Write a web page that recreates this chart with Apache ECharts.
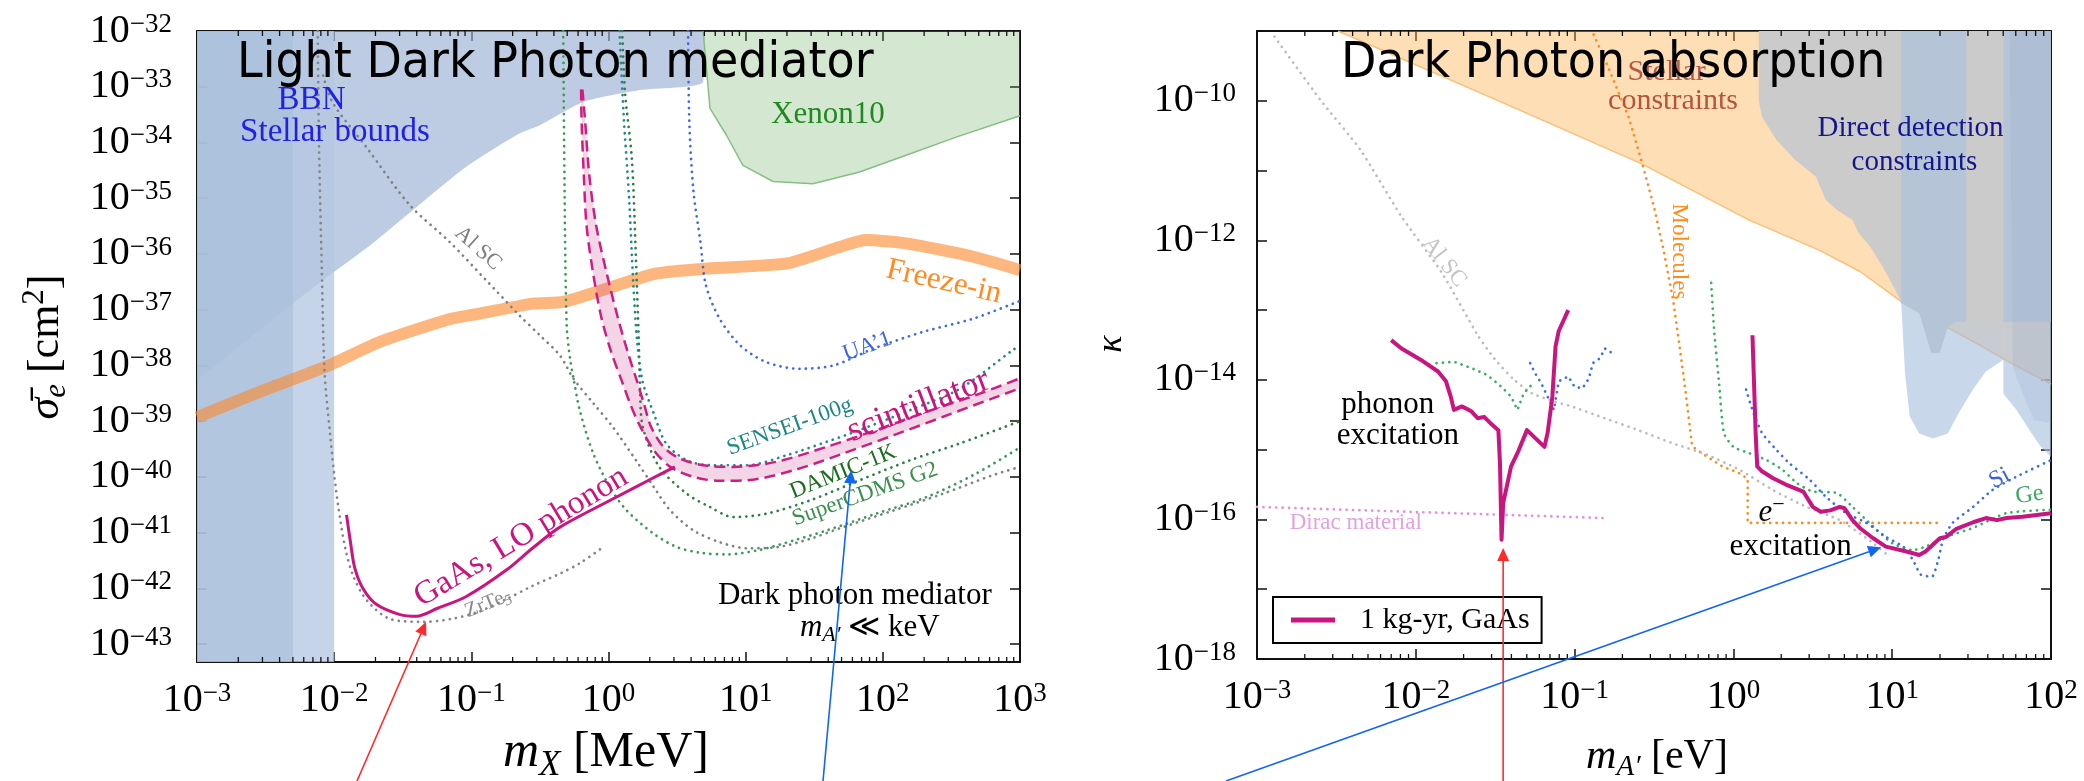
<!DOCTYPE html>
<html><head><meta charset="utf-8">
<script src="https://cdn.jsdelivr.net/npm/echarts@6.0.0/dist/echarts.min.js"></script>
<style>html,body{margin:0;padding:0;background:#fff;}#c{width:2084px;height:781px;}</style>
</head><body><div id="c"></div>
<script>
// All values are log10 of the plotted quantities.
// ---------- Left panel: x = log10(m_X / MeV), y = log10(sigma_e / cm^2)
const leftRange = {x: [-3, 3], y: [-43.32, -32]};
const rightRange = {x: [-3, 2], y: [-18, -9]};

const bbnDarkBand = [[-3,-32],[-2.30,-32],[-2.30,-43.32],[-3,-43.32]];
const bbnLightBand = [[-2.30,-32],[-2.0,-32],[-2.0,-43.32],[-2.30,-43.32]];
const stellarBoundL = [[-3,-38.27],[-2.30,-36.89],[-2.0,-36.32],[-1.72,-35.81],[-1.43,-35.22],[-1.04,-34.44],[-0.65,-33.84],[-0.50,-33.69],[-0.18,-33.27],[0.23,-33.06],[0.69,-32.91],[0.70,-32.0]];
const xenon10 = [[0.69,-32.0],[0.74,-33.39],[0.86,-33.87],[0.98,-34.41],[1.20,-34.70],[1.49,-34.74],[1.83,-34.53],[2.17,-34.23],[2.54,-33.90],[3.0,-33.52]];
const freezeIn = [[-3,-38.93],[-2.56,-38.49],[-2.05,-38.01],[-1.66,-37.57],[-1.16,-37.17],[-0.94,-37.07],[-0.55,-36.89],[-0.33,-36.86],[-0.01,-36.62],[0.35,-36.35],[0.72,-36.26],[1.30,-36.17],[1.69,-35.87],[1.88,-35.75],[2.17,-35.81],[2.66,-36.05],[3.0,-36.29]];
const scintOuter = [[-0.20,-33.05],[-0.196,-33.63],[-0.18,-34.59],[-0.16,-35.49],[-0.11,-36.38],[-0.05,-37.16],[0.02,-37.76],[0.10,-38.30],[0.16,-38.70],[0.22,-39.04],[0.33,-39.52],[0.45,-39.82],[0.62,-40.0],[0.81,-40.07],[1.01,-40.06],[1.35,-39.88],[1.71,-39.58],[2.08,-39.25],[2.44,-38.92],[2.80,-38.59],[3.0,-38.41]];
const scintInner = [[-0.19,-33.05],[-0.17,-33.63],[-0.14,-34.59],[-0.09,-35.49],[-0.01,-36.38],[0.07,-37.16],[0.14,-37.76],[0.21,-38.30],[0.26,-38.70],[0.31,-39.10],[0.40,-39.46],[0.52,-39.67],[0.69,-39.79],[0.91,-39.82],[1.22,-39.73],[1.59,-39.46],[1.95,-39.16],[2.32,-38.83],[2.68,-38.53],[3.0,-38.23]];
const gaasLO = [[-1.91,-40.68],[-1.88,-41.19],[-1.85,-41.63],[-1.79,-42.0],[-1.69,-42.29],[-1.52,-42.47],[-1.40,-42.50],[-1.25,-42.36],[-1.04,-42.15],[-0.75,-41.68],[-0.55,-41.27],[-0.354,-40.90],[0.059,-40.36],[0.30,-40.05],[0.484,-39.82]];
const zrTe5 = [[-2.12,-32.0],[-2.11,-34.10],[-2.09,-36.29],[-2.07,-38.12],[-2.03,-39.22],[-2.0,-39.95],[-1.97,-40.53],[-1.92,-41.27],[-1.86,-41.78],[-1.76,-42.22],[-1.59,-42.55],[-1.35,-42.60],[-1.15,-42.55],[-0.95,-42.42],[-0.75,-42.2],[-0.55,-41.95],[-0.35,-41.73],[-0.21,-41.55],[-0.04,-41.26]];
const alScL = [[-2.08,-32.8],[-2.01,-33.29],[-1.76,-34.10],[-1.45,-35.12],[-1.16,-35.78],[-0.90,-36.45],[-0.65,-37.1],[-0.50,-37.46],[-0.354,-37.82],[-0.257,-38.23],[-0.11,-38.68],[0.03,-39.10],[0.20,-39.70],[0.33,-40.18],[0.45,-40.60],[0.62,-40.96],[0.81,-41.17],[1.01,-41.28],[1.23,-41.26],[1.47,-41.11],[1.71,-40.90],[2.08,-40.60],[2.44,-40.30],[2.80,-39.97],[3.0,-39.82]];
const superCDMS = [[-0.33,-32.0],[-0.32,-34.89],[-0.305,-37.28],[-0.28,-37.88],[-0.25,-38.3],[-0.21,-38.80],[-0.111,-39.58],[0.01,-40.18],[0.132,-40.60],[0.33,-41.02],[0.50,-41.26],[0.67,-41.36],[0.86,-41.39],[1.10,-41.31],[1.35,-41.14],[1.59,-40.96],[1.95,-40.66],[2.32,-40.36],[2.68,-39.94],[3.0,-39.47]];
const damic1K = [[0.10,-32.0],[0.12,-33.09],[0.17,-34.29],[0.20,-36.08],[0.22,-37.5],[0.23,-38.4],[0.25,-39.10],[0.37,-39.82],[0.57,-40.30],[0.74,-40.54],[0.91,-40.72],[1.15,-40.66],[1.47,-40.42],[1.83,-40.06],[2.20,-39.70],[2.56,-39.40],[3.0,-39.0]];
const sensei100g = [[0.08,-32.0],[0.11,-33.5],[0.15,-35.0],[0.18,-36.5],[0.21,-37.6],[0.25,-38.3],[0.33,-38.86],[0.42,-39.40],[0.57,-39.70],[0.74,-39.79],[1.01,-39.79],[1.30,-39.61],[1.59,-39.37],[1.83,-39.16],[2.20,-38.80],[2.56,-38.42],[2.95,-37.72],[3.0,-37.65]];
const ua1 = [[0.58,-32.0],[0.59,-33.69],[0.62,-34.89],[0.67,-35.78],[0.71,-36.56],[0.81,-37.16],[0.96,-37.64],[1.15,-37.94],[1.39,-38.06],[1.64,-38.0],[1.93,-37.70],[2.29,-37.40],[2.66,-37.16],[3.0,-36.84]];

// ---------- Right panel: x = log10(m_A' / eV), y = log10(kappa)
const stellarR = [[-2.49,-9.0],[-1.5,-9.98],[-0.58,-10.90],[0.10,-11.71],[0.54,-12.14],[0.80,-12.45],[1.07,-12.90],[1.51,-13.45],[1.78,-13.80],[2.0,-14.06]];
const directGray = [[0.16,-9.0],[0.16,-10.0],[0.18,-10.23],[0.27,-10.56],[0.39,-10.85],[0.52,-11.09],[0.58,-11.42],[0.65,-11.56],[0.75,-11.71],[0.79,-11.90],[0.86,-12.09],[0.94,-12.38],[1.03,-12.76],[1.057,-12.90],[1.17,-13.04],[1.245,-13.61],[1.30,-13.61],[1.35,-13.24],[1.40,-13.17],[2.0,-13.17]];
const directBlue1 = [[1.057,-9.0],[1.466,-9.0],[1.466,-13.17],[1.70,-13.17],[1.70,-13.71],[1.59,-13.88],[1.51,-14.13],[1.42,-14.47],[1.35,-14.77],[1.256,-14.84],[1.17,-14.77],[1.11,-14.52],[1.08,-13.88],[1.057,-12.90]];
const directBlue2 = [[1.70,-9.0],[2.0,-9.0],[2.0,-15.11],[1.93,-14.94],[1.865,-14.72],[1.78,-14.42],[1.70,-14.20]];
const directBlue3 = [[1.74,-9.0],[2.0,-9.0],[2.0,-14.62],[1.89,-14.57],[1.82,-14.18],[1.76,-13.83]];
const molecules = [[-0.88,-9.05],[-0.79,-9.51],[-0.66,-10.23],[-0.58,-10.85],[-0.50,-11.52],[-0.44,-12.14],[-0.38,-12.85],[-0.34,-13.5],[-0.30,-14.19],[-0.26,-14.95],[-0.20,-15.05],[-0.07,-15.24],[0.04,-15.34],[0.09,-15.42],[0.09,-16.05],[1.31,-16.05]];
const alScR = [[-2.89,-9.08],[-2.60,-9.99],[-2.35,-10.70],[-2.09,-11.66],[-1.84,-12.45],[-1.61,-13.36],[-1.50,-13.71],[-1.38,-14.0],[-1.27,-14.19],[-1.13,-14.31],[-1.02,-14.38],[-0.81,-14.55],[-0.60,-14.72],[-0.38,-14.91],[-0.17,-15.07],[0.04,-15.29],[0.25,-15.58],[0.46,-15.82],[0.67,-16.01],[0.88,-16.34],[0.98,-16.53]];
const phononGaAs = [[-2.155,-13.43],[-2.09,-13.55],[-1.97,-13.71],[-1.86,-13.88],[-1.81,-14.02],[-1.78,-14.24],[-1.76,-14.43],[-1.71,-14.38],[-1.65,-14.45],[-1.61,-14.55],[-1.57,-14.53],[-1.53,-14.62],[-1.48,-14.72],[-1.47,-15.19],[-1.46,-16.29],[-1.45,-15.77],[-1.40,-15.24],[-1.36,-15.05],[-1.30,-14.72],[-1.19,-14.96],[-1.17,-14.76],[-1.14,-14.24],[-1.12,-13.52],[-1.10,-13.3],[-1.04,-13.0]];
const electronGaAs = [[0.12,-13.36],[0.13,-14.05],[0.14,-14.76],[0.15,-15.24],[0.18,-15.31],[0.25,-15.41],[0.33,-15.50],[0.44,-15.60],[0.50,-15.82],[0.55,-15.89],[0.61,-15.87],[0.67,-15.82],[0.70,-15.84],[0.75,-16.01],[0.80,-16.13],[0.88,-16.27],[0.96,-16.39],[1.09,-16.46],[1.17,-16.51],[1.21,-16.46],[1.30,-16.27],[1.34,-16.25],[1.40,-16.14],[1.51,-16.04],[1.59,-15.98],[1.66,-16.01],[1.72,-15.98],[1.82,-15.96],[2.0,-15.91]];
const gePhonon = [[-1.87,-13.76],[-1.76,-13.74],[-1.65,-13.83],[-1.55,-13.93],[-1.46,-14.10],[-1.40,-14.24],[-1.36,-14.43],[-1.32,-14.19],[-1.27,-14.07],[-1.25,-14.05]];
const siPhonon = [[-1.28,-13.76],[-1.25,-13.90],[-1.21,-14.05],[-1.17,-14.24],[-1.13,-14.43],[-1.10,-14.02],[-1.04,-13.95],[-1.0,-14.10],[-0.95,-14.12],[-0.91,-13.98],[-0.885,-13.76],[-0.84,-13.69],[-0.81,-13.55],[-0.76,-13.62]];
const geElectron = [[-0.14,-12.61],[-0.12,-13.33],[-0.09,-14.05],[-0.06,-14.76],[0.0,-14.96],[0.10,-15.05],[0.21,-15.15],[0.31,-15.29],[0.40,-15.48],[0.50,-15.60],[0.65,-15.62],[0.75,-15.82],[0.88,-16.10],[1.0,-16.34],[1.13,-16.44],[1.21,-16.39],[1.34,-16.25],[1.51,-16.12],[1.72,-15.91],[2.0,-15.86]];
const siElectron = [[0.08,-14.14],[0.12,-14.43],[0.18,-14.76],[0.27,-15.0],[0.35,-15.19],[0.48,-15.43],[0.58,-15.67],[0.71,-15.91],[0.84,-16.05],[0.96,-16.25],[1.07,-16.39],[1.13,-16.58],[1.18,-16.79],[1.25,-16.82],[1.29,-16.58],[1.32,-16.29],[1.38,-16.05],[1.51,-15.82],[1.63,-15.58],[1.78,-15.39],[2.0,-15.15]];
const diracMaterial = [[-3.0,-15.82],[-0.82,-15.98]];

const minorMantissas = [2,3,4,5,6,7,8,9];

// ---------- helpers
const SERIF = 'Liberation Serif';
const RICH = {
  b: {fontFamily: SERIF, fontSize: 40, lineHeight: 40, color: '#000', verticalAlign: 'middle'},
  s: {fontFamily: SERIF, fontSize: 27, lineHeight: 14, color: '#000', verticalAlign: 'top'}
};
function isInt(v){ return Math.abs(v - Math.round(v)) < 1e-6; }
function expText(v){ const n = Math.round(v); return '{b|10}{s|' + (n < 0 ? '\u2212' : '') + Math.abs(n) + '}'; }
function fmtAll(v){ return isInt(v) ? expText(v) : ''; }
function fmtEven(v){ return (isInt(v) && Math.round(v) % 2 === 0) ? expText(v) : ''; }

function xAx(g, r, pos, show){
  return {gridIndex: g, type: 'value', min: r.x[0], max: r.x[1], minInterval: 1, maxInterval: 1, position: pos,
    axisLine: {show: true, onZero: false, lineStyle: {color: '#111', width: 2}},
    axisTick: {show: true, inside: true, length: 10, lineStyle: {color: '#111', width: 1.5}},
    axisLabel: {show: show, formatter: fmtAll, rich: RICH, margin: 18},
    splitLine: {show: false}};
}
function yAx(g, r, pos, show, fmt, margin){
  return {gridIndex: g, type: 'value', min: r.y[0], max: r.y[1], minInterval: 1, maxInterval: 1, position: pos,
    axisLine: {show: true, onZero: false, lineStyle: {color: '#111', width: 2}},
    axisTick: {show: true, inside: true, length: 10, lineStyle: {color: '#111', width: 1.5}},
    axisLabel: {show: show, formatter: fmt, rich: RICH, margin: margin || 20},
    splitLine: {show: false}};
}
function ln(name, data, g, color, width, type, z, smooth, extra){
  const dotted = type === 'dotted';
  return Object.assign({type: 'line', name: name, data: data, xAxisIndex: g * 2, yAxisIndex: g * 2,
    symbol: 'none', showSymbol: false, silent: true, z: z, smooth: smooth || 0, animation: false,
    itemStyle: {color: color},
    lineStyle: {color: color, width: width, type: dotted ? [0.1, 6.3] : (type || 'solid'), cap: dotted ? 'round' : 'butt', join: 'round'}
  }, extra || {});
}
function poly(name, data, g, fill, z){
  return {type: 'custom', name: name, data: data, xAxisIndex: g * 2, yAxisIndex: g * 2, z: z, silent: true, animation: false,
    renderItem: function(params, api){
      if (params.dataIndexInside !== 0) return null;
      const pts = [];
      for (let i = 0; i < params.dataInsideLength; i++) pts.push(api.coord([api.value(0, i), api.value(1, i)]));
      return {type: 'polygon', shape: {points: pts}, style: {fill: fill}};
    }};
}
function minorTicks(g, r){
  const data = [];
  for (let k = r.x[0]; k < r.x[1]; k++) for (const m of minorMantissas) data.push([k + Math.log10(m), r.y[0]]);
  return {type: 'custom', name: 'minor' + g, data: data, xAxisIndex: g * 2, yAxisIndex: g * 2, z: 20, silent: true, animation: false,
    renderItem: function(params, api){
      const x = api.value(0);
      const a = api.coord([x, r.y[0]]), b = api.coord([x, r.y[1]]);
      return {type: 'group', children: [
        {type: 'line', shape: {x1: a[0], y1: a[1], x2: a[0], y2: a[1] - 5}, style: {stroke: '#111', lineWidth: 1.3}},
        {type: 'line', shape: {x1: b[0], y1: b[1], x2: b[0], y2: b[1] + 5}, style: {stroke: '#111', lineWidth: 1.3}}
      ]};
    }};
}

const MAG = '#c8157f';
const LEG = '1 kg-yr, GaAs';
const DW = 2.7;
const series = [
  // left panel
  ln('Stellar bounds', stellarBoundL, 0, 'rgba(0,0,0,0)', 0, 'solid', 1, 0.2, {areaStyle: {origin: 'end', color: 'rgba(150,175,210,0.63)', opacity: 1}}),
  poly('BBN light', bbnLightBand, 0, 'rgba(181,200,226,0.78)', 2),
  poly('BBN dark', bbnDarkBand, 0, 'rgba(171,192,220,0.91)', 2),
  ln('Xenon10', xenon10, 0, '#86bf84', 1.5, 'solid', 2, 0, {areaStyle: {origin: 'end', color: 'rgba(100,170,90,0.28)', opacity: 1}}),
  ln('Freeze-in', freezeIn, 0, 'rgba(250,140,50,0.63)', 12, 'solid', 3, 0.2),
  ln('ZrTe5', zrTe5, 0, '#858585', DW, 'dotted', 4, 0.3),
  ln('Al SC', alScL, 0, '#808080', DW, 'dotted', 4, 0.3),
  ln('SuperCDMS G2', superCDMS, 0, '#3a9a5a', DW, 'dotted', 4, 0.3),
  ln('DAMIC-1K', damic1K, 0, '#2d7d45', DW, 'dotted', 4, 0.3),
  ln('SENSEI-100g', sensei100g, 0, '#1f8a8a', DW, 'dotted', 4, 0.3),
  ln("UA'1", ua1, 0, '#4169e1', DW, 'dotted', 4, 0.3),
  poly('scint band', scintOuter.concat(scintInner.slice().reverse()), 0, 'rgba(205,60,145,0.22)', 5),
  ln('scint outer', scintOuter, 0, '#cc1f82', 2.5, [11, 6], 6, 0.3),
  ln('scint inner', scintInner, 0, '#cc1f82', 2.5, [11, 6], 6, 0.3),
  ln('GaAs LO phonon', gaasLO, 0, MAG, 3, 'solid', 6, 0.3),
  minorTicks(0, leftRange),
  // right panel
  ln('Stellar constraints', stellarR, 1, 'rgba(250,185,110,0.9)', 1.5, 'solid', 1, 0, {areaStyle: {origin: 'end', color: 'rgba(252,175,70,0.4)', opacity: 1}}),
  ln('Direct detection', directGray, 1, 'rgba(0,0,0,0)', 0, 'solid', 2, 0, {areaStyle: {origin: 'end', color: '#cbcbcb', opacity: 1}}),
  poly('DD blue 1', directBlue1, 1, 'rgba(168,192,222,0.63)', 3),
  poly('DD blue 2', directBlue2, 1, 'rgba(168,192,222,0.63)', 3),
  poly('DD blue 3', directBlue3, 1, 'rgba(140,165,205,0.18)', 3),
  ln('Molecules', molecules, 1, '#ff8c1a', DW, 'dotted', 4, 0),
  ln('Al SC R', alScR, 1, '#bdbdbd', DW, 'dotted', 4, 0.2),
  ln('Dirac material', diracMaterial, 1, '#e48fda', DW, 'dotted', 4, 0),
  ln('Ge phonon', gePhonon, 1, '#3cae6a', DW, 'dotted', 4, 0),
  ln('Si phonon', siPhonon, 1, '#3a6ee8', DW, 'dotted', 4, 0),
  ln('Ge electron', geElectron, 1, '#3cae6a', DW, 'dotted', 4, 0.2),
  ln('Si electron', siElectron, 1, '#3a6ee8', DW, 'dotted', 4, 0.2),
  ln(LEG, phononGaAs, 1, MAG, 4, 'solid', 6, 0),
  ln(LEG, electronGaAs, 1, MAG, 4, 'solid', 6, 0),
  minorTicks(1, rightRange)
];

const option = {
  animation: false,
  backgroundColor: '#fff',
  grid: [{left: 197, top: 31, width: 823, height: 631}, {left: 1257, top: 31, width: 794, height: 628}],
  xAxis: [xAx(0, leftRange, 'bottom', true), xAx(0, leftRange, 'top', false), xAx(1, rightRange, 'bottom', true), xAx(1, rightRange, 'top', false)],
  yAxis: [yAx(0, leftRange, 'left', true, fmtAll, 25), yAx(0, leftRange, 'right', false, fmtAll), yAx(1, rightRange, 'left', true, fmtEven, 21), yAx(1, rightRange, 'right', false, fmtEven)],
  legend: {show: true, data: [{name: LEG, icon: 'rect', itemStyle: {color: MAG}}], left: 1273, top: 597, orient: 'horizontal', padding: [8, 12, 8, 18], itemWidth: 44, itemHeight: 5,
    borderColor: '#000', borderWidth: 2, borderRadius: 0, backgroundColor: '#fff', selectedMode: false,
    textStyle: {fontFamily: SERIF, fontSize: 30, color: '#000', padding: [0, 0, 0, 20]}},
  series: series
};

const chart = echarts.init(document.getElementById('c'), null, {renderer: 'canvas'});
chart.setOption(option);

// ---------- annotations
const labelsLeft = [
  {p: [-2.165, -33.25], t: 'BBN', c: '#2020e6', s: 33},
  {p: [-1.994, -33.82], t: 'Stellar bounds', c: '#2020e6', s: 33},
  {p: [1.60, -33.51], t: 'Xenon10', c: '#1f8a1f', s: 31},
  {p: [2.445, -36.50], t: 'Freeze-in', c: '#ff8a1f', s: 31, r: -12.7},
  {p: [1.887, -37.66], t: 'UA\u20191', c: '#3f66dd', s: 23, r: 19.5},
  {p: [-0.95, -35.90], t: 'Al SC', c: '#808080', s: 22, r: -42},
  {p: [-0.637, -41.08], t: 'GaAs, LO phonon', c: MAG, s: 33, r: 31},
  {p: [2.26, -38.73], t: 'scintillator', c: MAG, s: 35, r: 21},
  {p: [1.322, -39.10], t: 'SENSEI-100g', c: '#1f8585', s: 23, r: 20},
  {p: [1.71, -39.91], t: 'DAMIC-1K', c: '#1d6b1d', s: 23, r: 22},
  {p: [1.87, -40.31], t: 'SuperCDMS G2', c: '#3b8f4f', s: 23, r: 19.5},
  {p: [-0.879, -42.27], t: 'ZrTe{u|5}', c: '#8a8a8a', s: 21, r: 22},
  {p: [1.796, -42.14], t: 'Dark photon mediator', c: '#000', s: 31},
  {p: [1.905, -42.71], t: '{i|m}{u|A\u2032} \u226A keV', c: '#000', s: 31}
];
const labelsRight = [
  {p: [-0.42, -9.59], t: 'Stellar', c: '#b9584a', s: 30},
  {p: [-0.38, -10.01], t: 'constraints', c: '#b5533c', s: 30},
  {p: [1.116, -10.39], t: 'Direct detection', c: '#16168c', s: 29},
  {p: [1.14, -10.88], t: 'constraints', c: '#16168c', s: 29},
  {p: [-0.344, -12.16], t: 'Molecules', c: '#ff8c1a', s: 23, r: -90},
  {p: [-1.82, -12.31], t: 'Al SC', c: '#c4c4c4', s: 23, r: -52},
  {p: [-2.177, -14.36], t: 'phonon', c: '#000', s: 31},
  {p: [-2.113, -14.80], t: 'excitation', c: '#000', s: 31},
  {p: [0.24, -15.90], t: '{i|e}{p|\u2212}', c: '#000', s: 31},
  {p: [0.36, -16.39], t: 'excitation', c: '#000', s: 31},
  {p: [-2.378, -16.05], t: 'Dirac material', c: '#e4a2de', s: 23},
  {p: [1.676, -15.41], t: 'Si', c: '#3a62e0', s: 24, r: 28},
  {p: [1.865, -15.65], t: 'Ge', c: '#3aa860', s: 24, r: 8}
];
function px(g, p){ return chart.convertToPixel({xAxisIndex: g * 2, yAxisIndex: g * 2}, p); }
function richFor(s, c){
  return {
    i: {fontFamily: SERIF, fontStyle: 'italic', fontSize: s, lineHeight: s * 1.2, color: c},
    u: {fontFamily: SERIF, fontStyle: 'italic', fontSize: Math.round(s * 0.7), lineHeight: Math.round(s * 0.7), verticalAlign: 'bottom', color: c},
    p: {fontFamily: SERIF, fontSize: Math.round(s * 0.7), lineHeight: Math.round(s * 0.6), verticalAlign: 'top', color: c}
  };
}
function textEl(x, y, t, c, s, rot, extra){
  return Object.assign({type: 'text', x: x, y: y, rotation: (rot || 0) * Math.PI / 180, z: 50, silent: true,
    style: {text: t, fill: c, fontFamily: SERIF, fontSize: s, lineHeight: s * 1.2, align: 'center', verticalAlign: 'middle', rich: richFor(s, c)}}, extra || {});
}
const graphics = [];
labelsLeft.forEach(function(l){ const q = px(0, l.p); graphics.push(textEl(q[0], q[1], l.t, l.c, l.s, l.r)); });
labelsRight.forEach(function(l){ const q = px(1, l.p); graphics.push(textEl(q[0], q[1], l.t, l.c, l.s, l.r)); });

// panel titles
graphics.push({type: 'text', x: 237, y: 64, scaleX: 0.92, z: 60, silent: true,
  style: {text: 'Light Dark Photon mediator', fill: '#000', fontFamily: 'DejaVu Sans', fontSize: 50, align: 'left', verticalAlign: 'middle'}});
graphics.push({type: 'text', x: 1341, y: 64, scaleX: 0.92, z: 60, silent: true,
  style: {text: 'Dark Photon absorption', fill: '#000', fontFamily: 'DejaVu Sans', fontSize: 50, align: 'left', verticalAlign: 'middle'}});

// axis titles
graphics.push(textEl(606, 753, '{i|m}{u|X} [MeV]', '#000', 50, 0));
graphics.push(textEl(46, 347, '{i|\u03C3\u0304}{u|e} [cm{p|2}]', '#000', 44, 90));
graphics.push(textEl(1657, 757, '{i|m}{u|A\u2032} [eV]', '#000', 42, 0));
graphics.push(textEl(1112, 344, '{i|\u03BA}', '#000', 36, 90));

// arrows (tails below the plots, tips on curves)
function arrow(tail, tip, color){
  const dx = tip[0] - tail[0], dy = tip[1] - tail[1], L = Math.hypot(dx, dy), ux = dx / L, uy = dy / L;
  const hl = 13, hw = 6, bx = tip[0] - ux * hl, by = tip[1] - uy * hl;
  return [
    {type: 'line', z: 70, silent: true, shape: {x1: tail[0], y1: tail[1], x2: bx, y2: by}, style: {stroke: color, lineWidth: 1.6}},
    {type: 'polygon', z: 70, silent: true, shape: {points: [tip, [bx - uy * hw, by + ux * hw], [bx + uy * hw, by - ux * hw]]}, style: {fill: color}}
  ];
}
const RED = '#ff2a2a', BLUE = '#1166ee';
arrow([357, 781], px(0, [-1.33, -42.6]), RED).forEach(function(e){ graphics.push(e); });
arrow([823, 781], px(0, [1.77, -39.88]), BLUE).forEach(function(e){ graphics.push(e); });
const tipR = px(1, [-1.45, -16.41]);
arrow([tipR[0], 781], tipR, RED).forEach(function(e){ graphics.push(e); });
arrow([1226, 781], px(1, [0.93, -16.40]), BLUE).forEach(function(e){ graphics.push(e); });

chart.setOption({graphic: graphics});
</script></body></html>
